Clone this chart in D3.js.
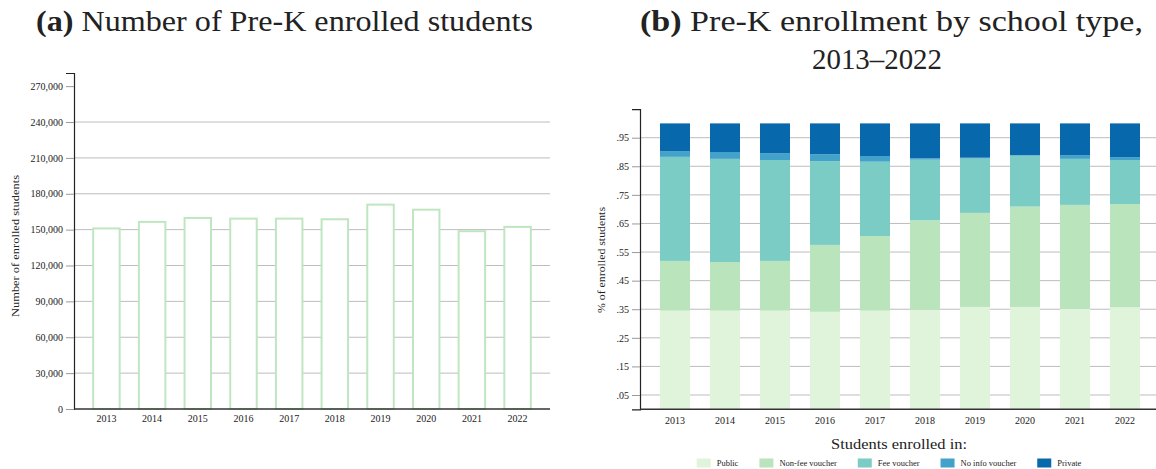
<!DOCTYPE html>
<html>
<head>
<meta charset="utf-8">
<script src="https://cdn.jsdelivr.net/npm/d3@7"></script>
<style>
  html, body { margin: 0; padding: 0; background: #fff; }
  svg { display: block; }
  text { font-family: "Liberation Serif", "DejaVu Serif", serif; fill: #222; }
</style>
</head>
<body>
<svg id="chart" width="1156" height="469"></svg>
<script>
const years = ["2013","2014","2015","2016","2017","2018","2019","2020","2021","2022"];
const enrolled = [151000, 156500, 159800, 159200, 159200, 158700, 170900, 166700, 148700, 152300];
const leftTicks = [0, 30000, 60000, 90000, 120000, 150000, 180000, 210000, 240000, 270000];

const categories = ["Public", "Non-fee voucher", "Fee voucher", "No info voucher", "Private"];
const publicShare  = [0.345, 0.345, 0.345, 0.341, 0.345, 0.348, 0.358, 0.358, 0.351, 0.357];
const nonFeeShare  = [0.174, 0.170, 0.174, 0.234, 0.261, 0.313, 0.329, 0.351, 0.364, 0.361];
const feeShare     = [0.364, 0.361, 0.353, 0.293, 0.260, 0.212, 0.190, 0.178, 0.161, 0.154];
const noInfoShare  = [0.020, 0.024, 0.023, 0.024, 0.020, 0.005, 0.003, 0.002, 0.012, 0.010];
const privateShare = [0.097, 0.100, 0.105, 0.108, 0.114, 0.122, 0.120, 0.111, 0.112, 0.118];
const rightTicks = [0.05, 0.15, 0.25, 0.35, 0.45, 0.55, 0.65, 0.75, 0.85, 0.95];
const colors = ["#e0f3db", "#bae4bc", "#7bccc4", "#43a2ca", "#0868ac"];

const svg = d3.select("#chart");
const gridColor = "#bdbdbd";
const serif = "'Liberation Serif', 'DejaVu Serif', serif";

// stretch text to a target width (Computer-Modern-like wider glyphs)
function fit(sel, target) {
  sel.attr("textLength", target).attr("lengthAdjust", "spacingAndGlyphs");
  return sel;
}

// ---------------- Titles ----------------
function title(x, y, bold, rest, size, target) {
  const t = svg.append("text").attr("x", x).attr("y", y)
    .attr("text-anchor", "middle").style("font-size", size + "px");
  if (bold) t.append("tspan").style("font-weight", "bold").text(bold + " ");
  t.append("tspan").text(rest);
  fit(t, target);
  return t;
}
title(284.5, 31, "(a)", "Number of Pre-K enrolled students", 29, 497);
title(891.5, 31, "(b)", "Pre-K enrollment by school type,", 29, 503);
title(877, 69, null, "2013\u20132022", 29, 130);

// ---------------- Left chart ----------------
const xL = d3.scaleBand().domain(years).range([74, 550]).padding(0.42);
const yL = d3.scaleLinear().domain([0, 281000]).range([409, 73]);
const gL = svg.append("g");

gL.selectAll("line.grid").data(leftTicks.filter(d => d > 0 && d < 270000)).join("line")
  .attr("x1", 74).attr("x2", 550).attr("y1", d => yL(d)).attr("y2", d => yL(d))
  .attr("stroke", gridColor).attr("stroke-width", 1);

const axL = d3.axisLeft(yL).tickValues(leftTicks).tickSize(8).tickPadding(3)
  .tickFormat(d3.format(","));
const axLg = gL.append("g").attr("transform", "translate(74,0)").call(axL);
axLg.attr("font-family", null);
axLg.select(".domain").attr("stroke", "#222").attr("stroke-width", 1.2);
axLg.selectAll(".tick line").attr("stroke", "#999");
axLg.selectAll(".tick text").style("font-size", "10px").style("font-family", serif).attr("fill", "#222");

gL.selectAll("rect.bar").data(years).join("rect")
  .attr("x", d => xL(d)).attr("width", xL.bandwidth())
  .attr("y", (d, i) => yL(enrolled[i])).attr("height", (d, i) => yL(0) - yL(enrolled[i]))
  .attr("fill", "#fff").attr("stroke", "#bfe6c0").attr("stroke-width", 2);

gL.append("line").attr("x1", 74).attr("x2", 550).attr("y1", 409).attr("y2", 409)
  .attr("stroke", "#333").attr("stroke-width", 1.5);

const axLx = d3.axisBottom(xL).tickSize(0).tickPadding(6);
const axLxg = gL.append("g").attr("transform", "translate(0,409)").call(axLx);
axLxg.attr("font-family", null);
axLxg.select(".domain").remove();
axLxg.selectAll(".tick text").style("font-size", "10px").style("font-family", serif).attr("fill", "#222");

fit(svg.append("text").attr("transform", "translate(18.5,246) rotate(-90)")
  .attr("text-anchor", "middle").style("font-size", "10.5px").text("Number of enrolled students"), 142);

// ---------------- Right chart ----------------
const xR = d3.scaleBand().domain(years).range([640, 1160]).padding(0.4);
const yR = d3.scaleLinear().domain([0, 1.05]).range([409.3, 109.1]);
const gR = svg.append("g");

gR.selectAll("line.grid").data(rightTicks).join("line")
  .attr("x1", 640).attr("x2", 1156).attr("y1", d => yR(d)).attr("y2", d => yR(d))
  .attr("stroke", gridColor).attr("stroke-width", 1);

const table = years.map((y, i) => ({
  year: y,
  "Public": publicShare[i],
  "Non-fee voucher": nonFeeShare[i],
  "Fee voucher": feeShare[i],
  "No info voucher": noInfoShare[i],
  "Private": privateShare[i]
}));
const stack = d3.stack().keys(categories)(table);
const color = d3.scaleOrdinal().domain(categories).range(colors);

gR.selectAll("g.layer").data(stack).join("g")
  .attr("fill", d => color(d.key))
  .selectAll("rect").data(d => d).join("rect")
  .attr("x", d => xR(d.data.year)).attr("width", xR.bandwidth())
  .attr("y", d => yR(d[1])).attr("height", d => yR(d[0]) - yR(d[1]));

const axR = d3.axisLeft(yR).tickValues(rightTicks).tickSize(8).tickPadding(3)
  .tickFormat(d => d3.format(".2f")(d).replace(/^0/, ""));
const axRg = gR.append("g").attr("transform", "translate(640,0)").call(axR);
axRg.attr("font-family", null);
axRg.select(".domain").attr("stroke", "#222").attr("stroke-width", 1.2);
axRg.selectAll(".tick line").attr("stroke", "#999");
axRg.selectAll(".tick text").style("font-size", "10px").style("font-family", serif).attr("fill", "#222");

gR.append("line").attr("x1", 640).attr("x2", 1160).attr("y1", 409.3).attr("y2", 409.3)
  .attr("stroke", "#333").attr("stroke-width", 1.5);

const axRx = d3.axisBottom(xR).tickSize(0).tickPadding(8);
const axRxg = gR.append("g").attr("transform", "translate(0,409.3)").call(axRx);
axRxg.attr("font-family", null);
axRxg.select(".domain").remove();
axRxg.selectAll(".tick text").style("font-size", "10px").style("font-family", serif).attr("fill", "#222");

fit(svg.append("text").attr("transform", "translate(604.5,260) rotate(-90)")
  .attr("text-anchor", "middle").style("font-size", "10.5px").text("% of enrolled students"), 106);

// Legend
fit(svg.append("text").attr("x", 899).attr("y", 449).attr("text-anchor", "middle")
  .style("font-size", "15.5px").text("Students enrolled in:"), 136);

const lg = svg.append("g");
let cx = 0;
categories.forEach((c, i) => {
  const g = lg.append("g");
  g.append("rect").attr("x", cx).attr("y", -4.5).attr("width", 14).attr("height", 9).attr("fill", colors[i]);
  const t = g.append("text").attr("x", cx + 20).attr("y", 3).style("font-size", "8.5px").attr("fill", "#333").text(c);
  const w = t.node().getComputedTextLength();
  cx += 20 + w + 21;
});
const totalW = cx - 21;
lg.attr("transform", `translate(${889 - totalW / 2},463)`);
</script>
</body>
</html>
